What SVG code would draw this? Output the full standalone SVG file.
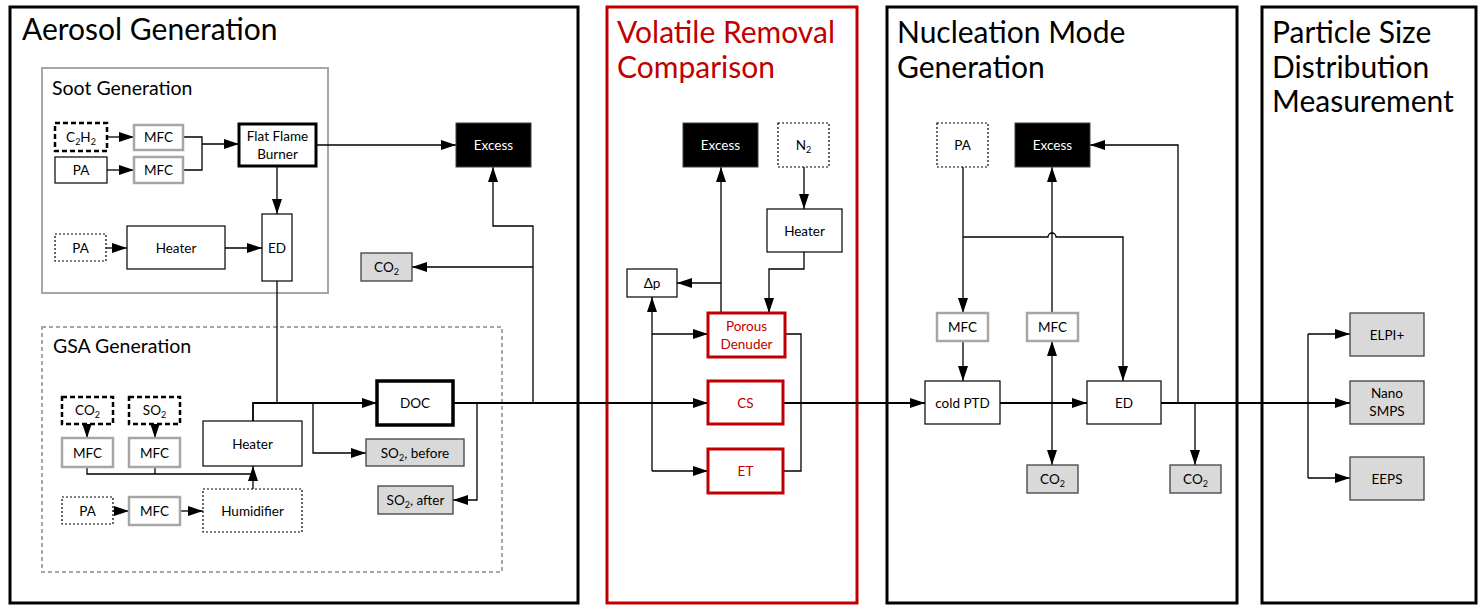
<svg xmlns="http://www.w3.org/2000/svg" width="1478" height="605" viewBox="0 0 1478 605">
<defs>
<style>
text{font-family:Lato,"Liberation Sans",sans-serif;fill:#000}
.title{font-size:30px}
.sub{font-size:19.5px}
.t{font-size:13.5px;text-anchor:middle}
.tw{fill:#fff}
.tr{fill:#c00000}
.s{font-size:9px}
.panel{fill:#fff;stroke:#000;stroke-width:3}
.panelr{fill:#fff;stroke:#c00000;stroke-width:3}
.grp{fill:none;stroke:#a6a6a6;stroke-width:2}
.grpd{fill:none;stroke:#a6a6a6;stroke-width:2;stroke-dasharray:4 3}
.n{fill:#fff;stroke:#000;stroke-width:1.2}
.mfc{fill:#fff;stroke:#a6a6a6;stroke-width:2.5}
.dot{fill:#fff;stroke:#000;stroke-width:1.2;stroke-dasharray:2 2}
.dash{fill:#fff;stroke:#000;stroke-width:2.5;stroke-dasharray:5 3}
.grey{fill:#d9d9d9;stroke:#404040;stroke-width:1.3}
.exc{fill:#000;stroke:#404040;stroke-width:1}
.red{fill:#fff;stroke:#c00000;stroke-width:3}
.thick{fill:#fff;stroke:#000;stroke-width:3}
.c{fill:none;stroke:#000;stroke-width:1.3}
.m{fill:none;stroke:#000;stroke-width:1.8}
.a{marker-end:url(#ah)}
.aa{marker-end:url(#ah);marker-start:url(#ah)}
</style>
<marker id="ah" markerUnits="userSpaceOnUse" markerWidth="15" markerHeight="10" refX="15" refY="5" orient="auto-start-reverse" viewBox="0 0 15 10">
<path d="M0,0 L15,5 L0,10 z" fill="#000"/>
</marker>
</defs>

<g id="panels">
<rect class="panel" x="10" y="7" width="568" height="596"/>
<rect class="panelr" x="607" y="7" width="250" height="596"/>
<rect class="panel" x="887" y="7" width="350" height="596"/>
<rect class="panel" x="1262" y="7" width="214" height="596"/>
<text class="title" x="22" y="40">Aerosol Generation</text>
<text class="title tr" x="617" y="43">Volatile Removal</text>
<text class="title tr" x="617" y="78">Comparison</text>
<text class="title" x="897" y="43">Nucleation Mode</text>
<text class="title" x="897" y="78">Generation</text>
<text class="title" x="1272" y="43">Particle Size</text>
<text class="title" x="1272" y="78">Distribution</text>
<text class="title" x="1272" y="112">Measurement</text>
</g>

<g id="soot-group">
<rect class="grp" x="42" y="68" width="286" height="225"/>
<text class="sub" x="52" y="95">Soot Generation</text>
</g>
<g id="gsa-group">
<rect class="grpd" x="42" y="327" width="460" height="245"/>
<text class="sub" x="53" y="353">GSA Generation</text>
</g>

<g id="connectors">
<path class="c a" d="M107,137 H134"/>
<path class="c a" d="M107,170 H134"/>
<path class="c" d="M183,137 H202 V170 H183"/>
<path class="c a" d="M202,144 H239"/>
<path class="c a" d="M277,166 V214"/>
<path class="c a" d="M106,248 H127"/>
<path class="c a" d="M225,248 H262"/>
<path class="c a" d="M316,145 H456"/>
<path class="c" d="M277,281 V403"/>
<path class="c a" d="M87,424 V438"/>
<path class="c a" d="M155,424 V438"/>
<path class="c" d="M87,467 V474 H253 M155,467 V474"/>
<path class="c a" d="M253,489 V466"/>
<path class="c a" d="M113,511 H129"/>
<path class="c a" d="M180,511 H203"/>
<path class="m a" d="M253,421 V403 H377"/>
<path class="c a" d="M313,403 V453 H366"/>
<path class="m a" d="M453,403 H708"/>
<path class="c a" d="M477,403 V500 H453"/>
<path class="c a" d="M533,403 V226 H493 V167"/>
<path class="c a" d="M533,267 H412"/>
<path class="c a" d="M652,471 V297"/>
<path class="c a" d="M652,334 H708"/>
<path class="c a" d="M652,471 H708"/>
<path class="c a" d="M721,313 V167"/>
<path class="c a" d="M721,283 H677"/>
<path class="c a" d="M804,167 V209"/>
<path class="c a" d="M804,252 V269 H769 V313"/>
<path class="c" d="M785,334 H801 V471 H783"/>
<path class="m a" d="M783,403 H925"/>
<path class="c a" d="M963,167 V313"/>
<path class="c a" d="M963,341 V381"/>
<path class="c a" d="M963,237 H1048 A4,4 0 0 1 1056,237 H1123 V381"/>
<path class="c a" d="M1052,313 V167"/>
<path class="c aa" d="M1052,341 V465"/>
<path class="m a" d="M1000,403 H1087"/>
<path class="m a" d="M1161,403 H1350"/>
<path class="c a" d="M1178,403 V145 H1090"/>
<path class="c a" d="M1195,403 V465"/>
<path class="c" d="M1308,334 V478"/>
<path class="c a" d="M1308,334 H1350"/>
<path class="c a" d="M1308,478 H1350"/>
</g>

<g id="c2h2"><rect class="dash" x="55" y="123" width="52" height="28"/><text class="t" x="81" y="142">C<tspan class="s" dy="3">2</tspan><tspan dy="-3">H</tspan><tspan class="s" dy="3">2</tspan></text></g>
<g id="mfc-s1"><rect class="mfc" x="134" y="125" width="49" height="25"/><text class="t" x="158.5" y="142">MFC</text></g>
<g id="pa-s"><rect class="n" x="55" y="157" width="52" height="26"/><text class="t" x="81" y="175">PA</text></g>
<g id="mfc-s2"><rect class="mfc" x="134" y="157" width="49" height="26"/><text class="t" x="158.5" y="175">MFC</text></g>
<g id="burner"><rect class="thick" x="239" y="124" width="77" height="42"/><text class="t" x="277.5" y="141">Flat Flame</text><text class="t" x="277.5" y="159">Burner</text></g>
<g id="pa-s2"><rect class="dot" x="55" y="234" width="51" height="27"/><text class="t" x="80.5" y="252.5">PA</text></g>
<g id="heater-s"><rect class="n" x="127" y="226" width="98" height="43"/><text class="t" x="176" y="252.5">Heater</text></g>
<g id="ed-s"><rect class="n" x="262" y="214" width="30" height="67"/><text class="t" x="277" y="252.5">ED</text></g>

<g id="co2-g"><rect class="dash" x="62" y="397" width="51" height="27"/><text class="t" x="87.5" y="415">CO<tspan class="s" dy="3">2</tspan></text></g>
<g id="so2-g"><rect class="dash" x="129" y="397" width="51" height="27"/><text class="t" x="154.5" y="415">SO<tspan class="s" dy="3">2</tspan></text></g>
<g id="mfc-g1"><rect class="mfc" x="62" y="438" width="51" height="29"/><text class="t" x="87.5" y="457.5">MFC</text></g>
<g id="mfc-g2"><rect class="mfc" x="129" y="438" width="51" height="29"/><text class="t" x="154.5" y="457.5">MFC</text></g>
<g id="heater-g"><rect class="n" x="203" y="421" width="99" height="45"/><text class="t" x="252.5" y="448.5">Heater</text></g>
<g id="pa-g"><rect class="dot" x="62" y="497" width="51" height="27"/><text class="t" x="87.5" y="515.5">PA</text></g>
<g id="mfc-g3"><rect class="mfc" x="129" y="497" width="51" height="28"/><text class="t" x="154.5" y="516">MFC</text></g>
<g id="humidifier"><rect class="dot" x="203" y="489" width="99" height="43"/><text class="t" x="252.5" y="515.5">Humidifier</text></g>
<g id="doc"><rect class="thick" x="377" y="381" width="76" height="44" style="stroke-width:3.5"/><text class="t" x="415" y="408">DOC</text></g>
<g id="so2-before"><rect class="grey" x="366" y="439" width="98" height="27"/><text class="t" x="415" y="457.5">SO<tspan class="s" dy="3">2</tspan><tspan dy="-3">, before</tspan></text></g>
<g id="so2-after"><rect class="grey" x="378" y="486" width="75" height="28"/><text class="t" x="415.5" y="505">SO<tspan class="s" dy="3">2</tspan><tspan dy="-3">, after</tspan></text></g>
<g id="co2-a"><rect class="grey" x="361" y="253" width="51" height="28"/><text class="t" x="386.5" y="272">CO<tspan class="s" dy="3">2</tspan></text></g>
<g id="excess-a"><rect class="exc" x="456" y="123" width="75" height="44"/><text class="t tw" x="493.5" y="150">Excess</text></g>

<g id="excess-v"><rect class="exc" x="683" y="123" width="75" height="44"/><text class="t tw" x="720.5" y="150">Excess</text></g>
<g id="n2"><rect class="dot" x="778" y="123" width="51" height="44"/><text class="t" x="803.5" y="150">N<tspan class="s" dy="3">2</tspan></text></g>
<g id="heater-v"><rect class="n" x="767" y="209" width="75" height="43"/><text class="t" x="804.5" y="235.5">Heater</text></g>
<g id="dp"><rect class="n" x="627" y="269" width="50" height="28"/><text class="t" x="652" y="288">Δp</text></g>
<g id="porous"><rect class="red" x="708" y="313" width="77" height="44"/><text class="t tr" x="746.5" y="331">Porous</text><text class="t tr" x="746.5" y="349">Denuder</text></g>
<g id="cs"><rect class="red" x="708" y="381" width="75" height="43"/><text class="t tr" x="745.5" y="407.5">CS</text></g>
<g id="et"><rect class="red" x="708" y="449" width="75" height="44"/><text class="t tr" x="745.5" y="476">ET</text></g>

<g id="pa-n"><rect class="dot" x="937" y="123" width="51" height="44"/><text class="t" x="962.5" y="150">PA</text></g>
<g id="excess-n"><rect class="exc" x="1015" y="123" width="75" height="44"/><text class="t tw" x="1052.5" y="150">Excess</text></g>
<g id="mfc-n1"><rect class="mfc" x="937" y="313" width="51" height="28"/><text class="t" x="962.5" y="332">MFC</text></g>
<g id="mfc-n2"><rect class="mfc" x="1027" y="313" width="51" height="28"/><text class="t" x="1052.5" y="332">MFC</text></g>
<g id="cold-ptd"><rect class="n" x="925" y="381" width="75" height="43"/><text class="t" x="962.5" y="407.5">cold PTD</text></g>
<g id="ed-n"><rect class="n" x="1087" y="381" width="74" height="43"/><text class="t" x="1124" y="407.5">ED</text></g>
<g id="co2-n1"><rect class="grey" x="1027" y="465" width="51" height="28"/><text class="t" x="1052.5" y="484">CO<tspan class="s" dy="3">2</tspan></text></g>
<g id="co2-n2"><rect class="grey" x="1170" y="465" width="51" height="28"/><text class="t" x="1195.5" y="484">CO<tspan class="s" dy="3">2</tspan></text></g>

<g id="elpi"><rect class="grey" x="1350" y="313" width="74" height="43"/><text class="t" x="1387" y="339.5">ELPI+</text></g>
<g id="nano-smps"><rect class="grey" x="1350" y="381" width="74" height="43"/><text class="t" x="1387" y="398">Nano</text><text class="t" x="1387" y="416">SMPS</text></g>
<g id="eeps"><rect class="grey" x="1350" y="457" width="74" height="43"/><text class="t" x="1387" y="483.5">EEPS</text></g>
</svg>
